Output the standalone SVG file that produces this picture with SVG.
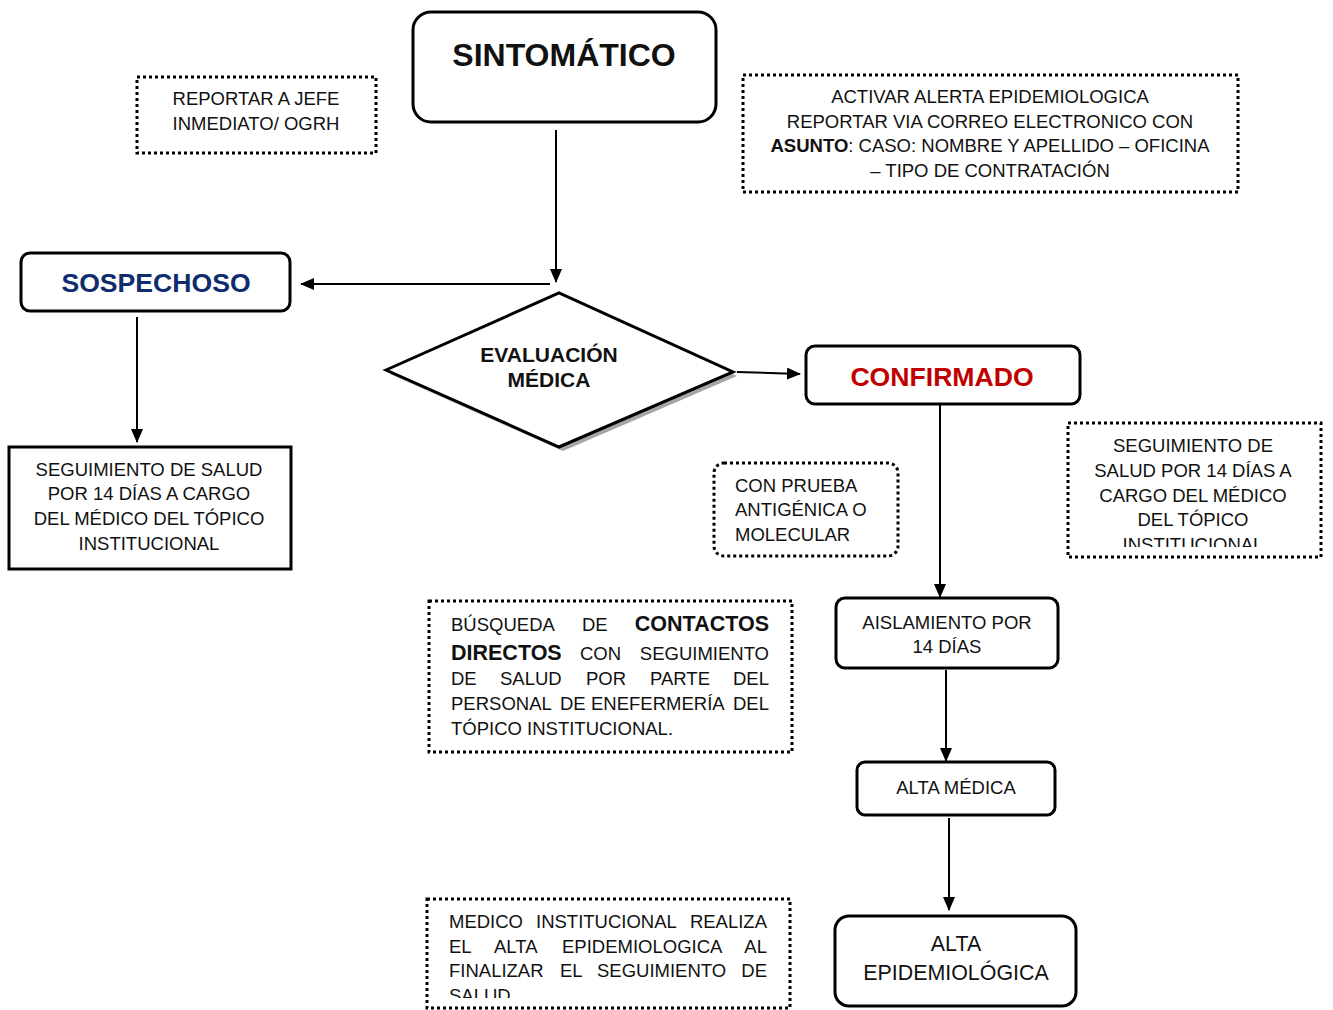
<svg xmlns="http://www.w3.org/2000/svg" width="1333" height="1010" viewBox="0 0 1333 1010">
<defs>
<style>
.t{font-family:"Liberation Sans",Arial,sans-serif;font-size:18.5px;fill:#111}
.c{text-anchor:middle}
.e{text-anchor:end}
.b{font-weight:bold}
.box{fill:#fff;stroke:#000;stroke-width:3}
.dot{fill:#fff;stroke:#000;stroke-width:3;stroke-dasharray:3 3}
.con{stroke:#000;stroke-width:2;fill:none;marker-end:url(#ah)}
</style>
<marker id="ah" markerWidth="14" markerHeight="12" refX="13" refY="6" orient="auto" markerUnits="userSpaceOnUse">
<path d="M0,0 L14,6 L0,12 Z" fill="#000"/>
</marker>
<clipPath id="clipR"><rect x="1068" y="423" width="253" height="124"/></clipPath>
<clipPath id="clipM"><rect x="427" y="899" width="363" height="99"/></clipPath>
</defs>
<rect width="1333" height="1010" fill="#fff"/>

<g id="connectors">
<line class="con" x1="556" y1="130" x2="556" y2="282"/>
<line class="con" x1="550" y1="284" x2="301" y2="284"/>
<line class="con" x1="737" y1="372" x2="800" y2="374"/>
<line class="con" x1="137" y1="317" x2="137" y2="442"/>
<line class="con" x1="940" y1="404" x2="940" y2="597"/>
<line class="con" x1="946" y1="670" x2="946" y2="761"/>
<line class="con" x1="949" y1="818" x2="949" y2="910"/>
</g>

<g id="sintomatico">
<rect class="box" x="413" y="12" width="303" height="110" rx="18"/>
<text class="t c b" x="564" y="66" style="font-size:32px">SINTOMÁTICO</text>
</g>

<g id="reportar-jefe">
<rect class="dot" x="137" y="77" width="239" height="76"/>
<text class="t c" x="256" y="105">REPORTAR A JEFE</text>
<text class="t c" x="256" y="130">INMEDIATO/ OGRH</text>
</g>

<g id="activar-alerta">
<rect class="dot" x="743" y="75" width="495" height="117"/>
<text class="t c" x="990" y="103">ACTIVAR ALERTA EPIDEMIOLOGICA</text>
<text class="t c" x="990" y="128">REPORTAR VIA CORREO ELECTRONICO CON</text>
<text class="t c" x="990" y="152"><tspan class="b">ASUNTO</tspan>: CASO: NOMBRE Y APELLIDO – OFICINA</text>
<text class="t c" x="990" y="177">– TIPO DE CONTRATACIÓN</text>
</g>

<g id="sospechoso">
<rect class="box" x="21" y="253" width="269" height="58" rx="9"/>
<text class="t c b" x="156" y="292" style="font-size:26.6px;fill:#0F2D6E">SOSPECHOSO</text>
</g>

<g id="evaluacion">
<polygon points="390,374 563,297 737,376 563,451" fill="#a6a6a6"/>
<polygon points="386,370 559,293 733,372 559,447" fill="#fff" stroke="#000" stroke-width="3" stroke-linejoin="miter"/>
<text class="t c b" x="549" y="362" style="font-size:21px">EVALUACIÓN</text>
<text class="t c b" x="549" y="387" style="font-size:21px">MÉDICA</text>
</g>

<g id="confirmado">
<rect class="box" x="806" y="346" width="274" height="58" rx="9"/>
<text class="t c b" x="942" y="386" style="font-size:26.6px;fill:#C00000">CONFIRMADO</text>
</g>

<g id="seguimiento-izq">
<rect class="box" x="9" y="447" width="282" height="122"/>
<text class="t c" x="149" y="476">SEGUIMIENTO DE SALUD</text>
<text class="t c" x="149" y="500">POR 14 DÍAS A CARGO</text>
<text class="t c" x="149" y="525">DEL MÉDICO DEL TÓPICO</text>
<text class="t c" x="149" y="550">INSTITUCIONAL</text>
</g>

<g id="con-prueba">
<rect class="dot" x="714" y="463" width="184" height="93" rx="10"/>
<text class="t" x="735" y="492">CON PRUEBA</text>
<text class="t" x="735" y="516">ANTIGÉNICA O</text>
<text class="t" x="735" y="541">MOLECULAR</text>
</g>

<g id="seguimiento-der">
<rect class="dot" x="1068" y="423" width="253" height="134"/>
<g clip-path="url(#clipR)">
<text class="t c" x="1193" y="452">SEGUIMIENTO DE</text>
<text class="t c" x="1193" y="477">SALUD POR 14 DÍAS A</text>
<text class="t c" x="1193" y="502">CARGO DEL MÉDICO</text>
<text class="t c" x="1193" y="526">DEL TÓPICO</text>
<text class="t c" x="1193" y="551">INSTITUCIONAL</text>
</g>
</g>

<g id="busqueda">
<rect class="dot" x="429" y="601" width="363" height="151"/>
<text class="t" x="451" y="631">BÚSQUEDA</text>
<text class="t" x="582" y="631">DE</text>
<text class="t e b" x="769" y="631" style="font-size:21.5px">CONTACTOS</text>
<text class="t b" x="451" y="660" style="font-size:21.5px">DIRECTOS</text>
<text class="t" x="580" y="660">CON</text>
<text class="t e" x="769" y="660">SEGUIMIENTO</text>
<text class="t" x="451" y="685">DE</text>
<text class="t" x="500" y="685">SALUD</text>
<text class="t" x="586" y="685">POR</text>
<text class="t" x="650" y="685">PARTE</text>
<text class="t e" x="769" y="685">DEL</text>
<text class="t" x="451" y="710">PERSONAL</text>
<text class="t" x="560" y="710">DE</text>
<text class="t" x="591" y="710">ENEFERMERÍA</text>
<text class="t e" x="769" y="710">DEL</text>
<text class="t" x="451" y="735">TÓPICO INSTITUCIONAL.</text>
</g>

<g id="aislamiento">
<rect class="box" x="836" y="598" width="222" height="70" rx="9"/>
<text class="t c" x="947" y="629">AISLAMIENTO POR</text>
<text class="t c" x="947" y="653">14 DÍAS</text>
</g>

<g id="alta-medica">
<rect class="box" x="857" y="762" width="198" height="53" rx="8"/>
<text class="t c" x="956" y="794">ALTA MÉDICA</text>
</g>

<g id="medico-institucional">
<rect class="dot" x="427" y="899" width="363" height="109"/>
<g clip-path="url(#clipM)">
<text class="t" x="449" y="928">MEDICO</text>
<text class="t" x="536" y="928">INSTITUCIONAL</text>
<text class="t e" x="767" y="928">REALIZA</text>
<text class="t" x="449" y="953">EL</text>
<text class="t" x="494" y="953">ALTA</text>
<text class="t" x="562" y="953">EPIDEMIOLOGICA</text>
<text class="t e" x="767" y="953">AL</text>
<text class="t" x="449" y="977">FINALIZAR</text>
<text class="t" x="560" y="977">EL</text>
<text class="t" x="597" y="977">SEGUIMIENTO</text>
<text class="t e" x="767" y="977">DE</text>
<text class="t" x="449" y="1002">SALUD</text>
</g>
</g>

<g id="alta-epidemiologica">
<rect class="box" x="835" y="916" width="241" height="90" rx="14"/>
<text class="t c" x="956" y="951" style="font-size:21.4px">ALTA</text>
<text class="t c" x="956" y="980" style="font-size:21.4px">EPIDEMIOLÓGICA</text>
</g>
</svg>
